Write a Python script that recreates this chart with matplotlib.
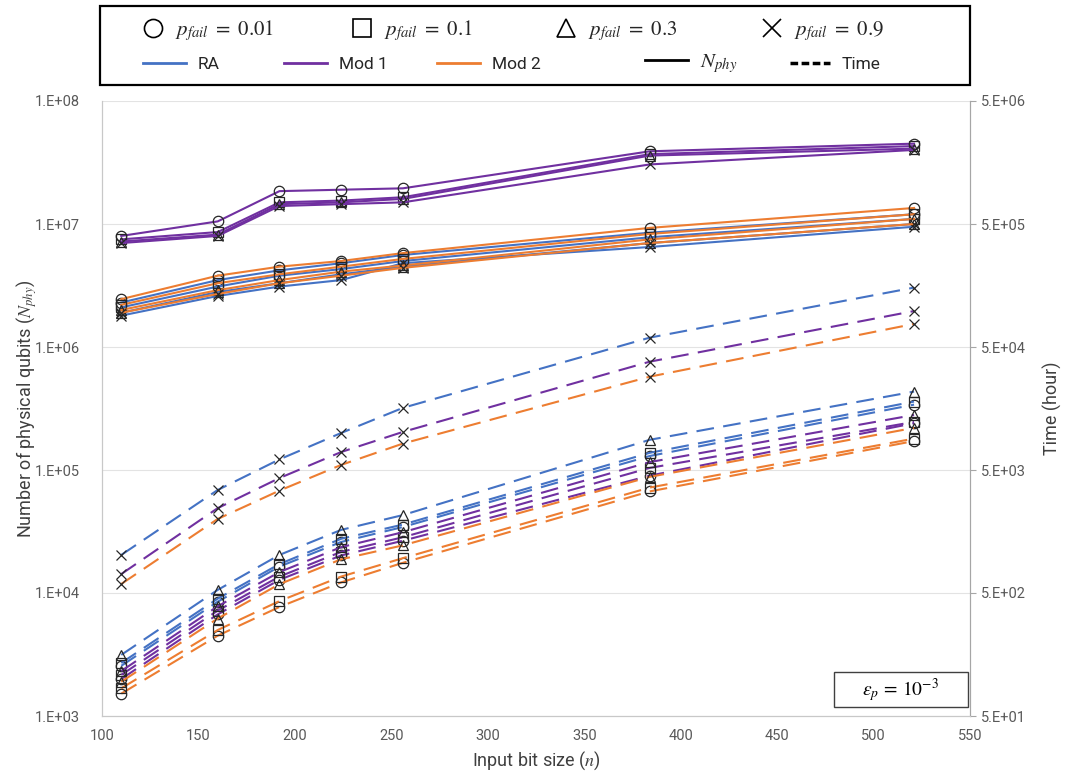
import matplotlib
matplotlib.use('Agg')
import matplotlib.pyplot as plt
from matplotlib.lines import Line2D
from matplotlib.patches import Rectangle
from matplotlib.ticker import FixedLocator, NullLocator, FuncFormatter

plt.rcParams['font.family'] = ['Roboto', 'DejaVu Sans']
plt.rcParams['mathtext.fontset'] = 'stix'

n_bits = [110, 160, 192, 224, 256, 384, 521]
p_fail = ['0.01', '0.1', '0.3', '0.9']
markers = ['o', 's', '^', 'x']
methods = ['RA', 'Mod 1', 'Mod 2']
colors = ['#4472C4', '#7030A0', '#ED7D31']

# number of physical qubits, rows follow p_fail
nphy_ra = [
    [2.3e6, 3.5e6, 4.2e6, 4.8e6, 5.6e6, 8.5e6, 1.2e7],
    [2.1e6, 3.1e6, 3.8e6, 4.3e6, 5.0e6, 7.8e6, 1.1e7],
    [1.9e6, 2.8e6, 3.3e6, 3.9e6, 4.5e6, 7.0e6, 1.0e7],
    [1.8e6, 2.6e6, 3.1e6, 3.5e6, 4.8e6, 6.5e6, 9.5e6],
]
nphy_mod1 = [
    [8.0e6, 1.05e7, 1.85e7, 1.9e7, 1.95e7, 3.9e7, 4.5e7],
    [7.5e6, 8.6e6, 1.5e7, 1.55e7, 1.65e7, 3.7e7, 4.3e7],
    [7.2e6, 8.2e6, 1.45e7, 1.5e7, 1.6e7, 3.6e7, 4.1e7],
    [7.0e6, 8.0e6, 1.4e7, 1.45e7, 1.5e7, 3.05e7, 4.0e7],
]
nphy_mod2 = [
    [2.45e6, 3.8e6, 4.5e6, 5.0e6, 5.8e6, 9.3e6, 1.35e7],
    [2.2e6, 3.3e6, 3.9e6, 4.5e6, 5.2e6, 8.3e6, 1.2e7],
    [2.0e6, 2.9e6, 3.5e6, 4.1e6, 4.6e6, 7.5e6, 1.1e7],
    [1.9e6, 2.7e6, 3.3e6, 3.8e6, 4.4e6, 7.0e6, 1.0e7],
]

# time in hours, rows follow p_fail
time_ra = [
    [128, 425, 820, 1300, 1720, 6500, 17000],
    [135, 450, 860, 1380, 1800, 6900, 18000],
    [157, 530, 1020, 1630, 2150, 8800, 21700],
    [1020, 3440, 6100, 10000, 16000, 59600, 152000],
]
time_mod1 = [
    [100, 335, 640, 1010, 1330, 4500, 12000],
    [108, 360, 680, 1080, 1420, 5200, 12300],
    [116, 390, 740, 1180, 1560, 5800, 14000],
    [713, 2450, 4300, 7000, 10200, 38000, 98000],
]
time_mod2 = [
    [76, 225, 385, 610, 880, 3350, 8600],
    [84, 250, 430, 680, 960, 3600, 9000],
    [95, 310, 590, 940, 1220, 4400, 11000],
    [592, 2000, 3400, 5500, 8200, 28700, 77000],
]

W, H = 1083, 773
fig = plt.figure(figsize=(W / 100, H / 100), dpi=100)
ax = fig.add_axes([102 / W, 1 - 716 / H, 868 / W, 615 / H])
ax2 = ax.twinx()

mk = dict(ms=7.5, mec='#262626', mfc='none', mew=0.9)
for nphy, color in zip([nphy_ra, nphy_mod1, nphy_mod2], colors):
    for vals, m in zip(nphy, markers):
        ax.plot(n_bits, vals, color=color, lw=1.5, marker=m, **mk)
for tim, color in zip([time_ra, time_mod1, time_mod2], colors):
    for vals, m in zip(tim, markers):
        ax2.plot(n_bits, vals, color=color, lw=1.5, dashes=(8.5, 4.5), marker=m, **mk)

ax.set_xlim(100, 550)
ax.set_yscale('log')
ax.set_ylim(1e3, 1e8)
ax2.set_yscale('log')
ax2.set_ylim(50, 5e6)

ax.yaxis.set_major_locator(FixedLocator([10.0 ** k for k in range(3, 9)]))
ax.yaxis.set_minor_locator(NullLocator())
ax.yaxis.set_major_formatter(FuncFormatter(lambda v, p: f'{v:.0E}'.replace('E', '.E')))
ax2.yaxis.set_major_locator(FixedLocator([5 * 10.0 ** k for k in range(1, 7)]))
ax2.yaxis.set_minor_locator(NullLocator())
ax2.yaxis.set_major_formatter(FuncFormatter(lambda v, p: f'{v:.0E}'.replace('E', '.E')))
ax.set_xticks(range(100, 551, 50))

ax.grid(axis='y', color='#e3e3e3', lw=0.8)
ax.set_axisbelow(True)
for a in (ax, ax2):
    a.spines['top'].set_visible(False)
    a.spines['left'].set_color('#c8c8c8')
    a.spines['bottom'].set_color('#c8c8c8')
    a.spines['right'].set_color('#a6a6a6')
ax.tick_params(axis='x', length=0, labelsize=10.5, labelcolor='#595959', pad=9)
ax.tick_params(axis='y', length=0, labelsize=10.5, labelcolor='#595959', pad=16)
ax2.tick_params(axis='y', length=4, color='#a6a6a6', labelsize=10.5, labelcolor='#595959', pad=4)

ax.set_xlabel('Input bit size ($n$)', fontsize=13, color='#404040', labelpad=5)
ax.set_ylabel('Number of physical qubits ($N_{phy}$)', fontsize=13, color='#404040', labelpad=-3)
ax2.set_ylabel('Time (hour)', fontsize=13, color='#404040', labelpad=12)

# epsilon box
ax.add_patch(Rectangle((0.843, 0.0146), 0.155, 0.057, transform=ax.transAxes,
                       fill=True, fc='white', ec='#404040', lw=1.0, zorder=5))
ax.text(0.92, 0.043, r'$\epsilon_p\, =\, 10^{-3}$', transform=ax.transAxes,
        ha='center', va='center', fontsize=14, zorder=6)

# legend frame and entries
fig.patches.append(Rectangle((100 / W, 1 - 85 / H), 870 / W, 79 / H, transform=fig.transFigure,
                             fill=False, ec='black', lw=1.6))
entries = []
for m, p, x in zip(markers, p_fail, [143, 352, 556, 762]):
    h = Line2D([], [], ls='none', marker=m, ms=13, mec='black', mfc='none', mew=1.2)
    entries.append((h, f'$p_{{fail}}\\ =\\ {p}$', x, 31, 1.2, 15))
for name, color, x in zip(methods, colors, [143, 284, 437]):
    entries.append((Line2D([], [], color=color, lw=2), name, x, 64, 2.6, 12.5))
entries.append((Line2D([], [], color='black', lw=2), r'$N_{phy}$', 645, 64, 2.6, 15))
entries.append((Line2D([], [], color='black', lw=2.5, dashes=(2.2, 1.0)), 'Time', 790, 64, 2.4, 12.5))

for h, lab, x, y, hl, fs in entries:
    fig.legend(handles=[h], labels=[lab], loc='center left', bbox_to_anchor=(x / W, 1 - y / H),
               bbox_transform=fig.transFigure, frameon=False, fontsize=fs, handlelength=hl * 12 / fs,
               handletextpad=0.7 * 12 / fs, borderpad=0, borderaxespad=0, labelcolor='#262626')

fig.savefig('out.png', dpi=100)
